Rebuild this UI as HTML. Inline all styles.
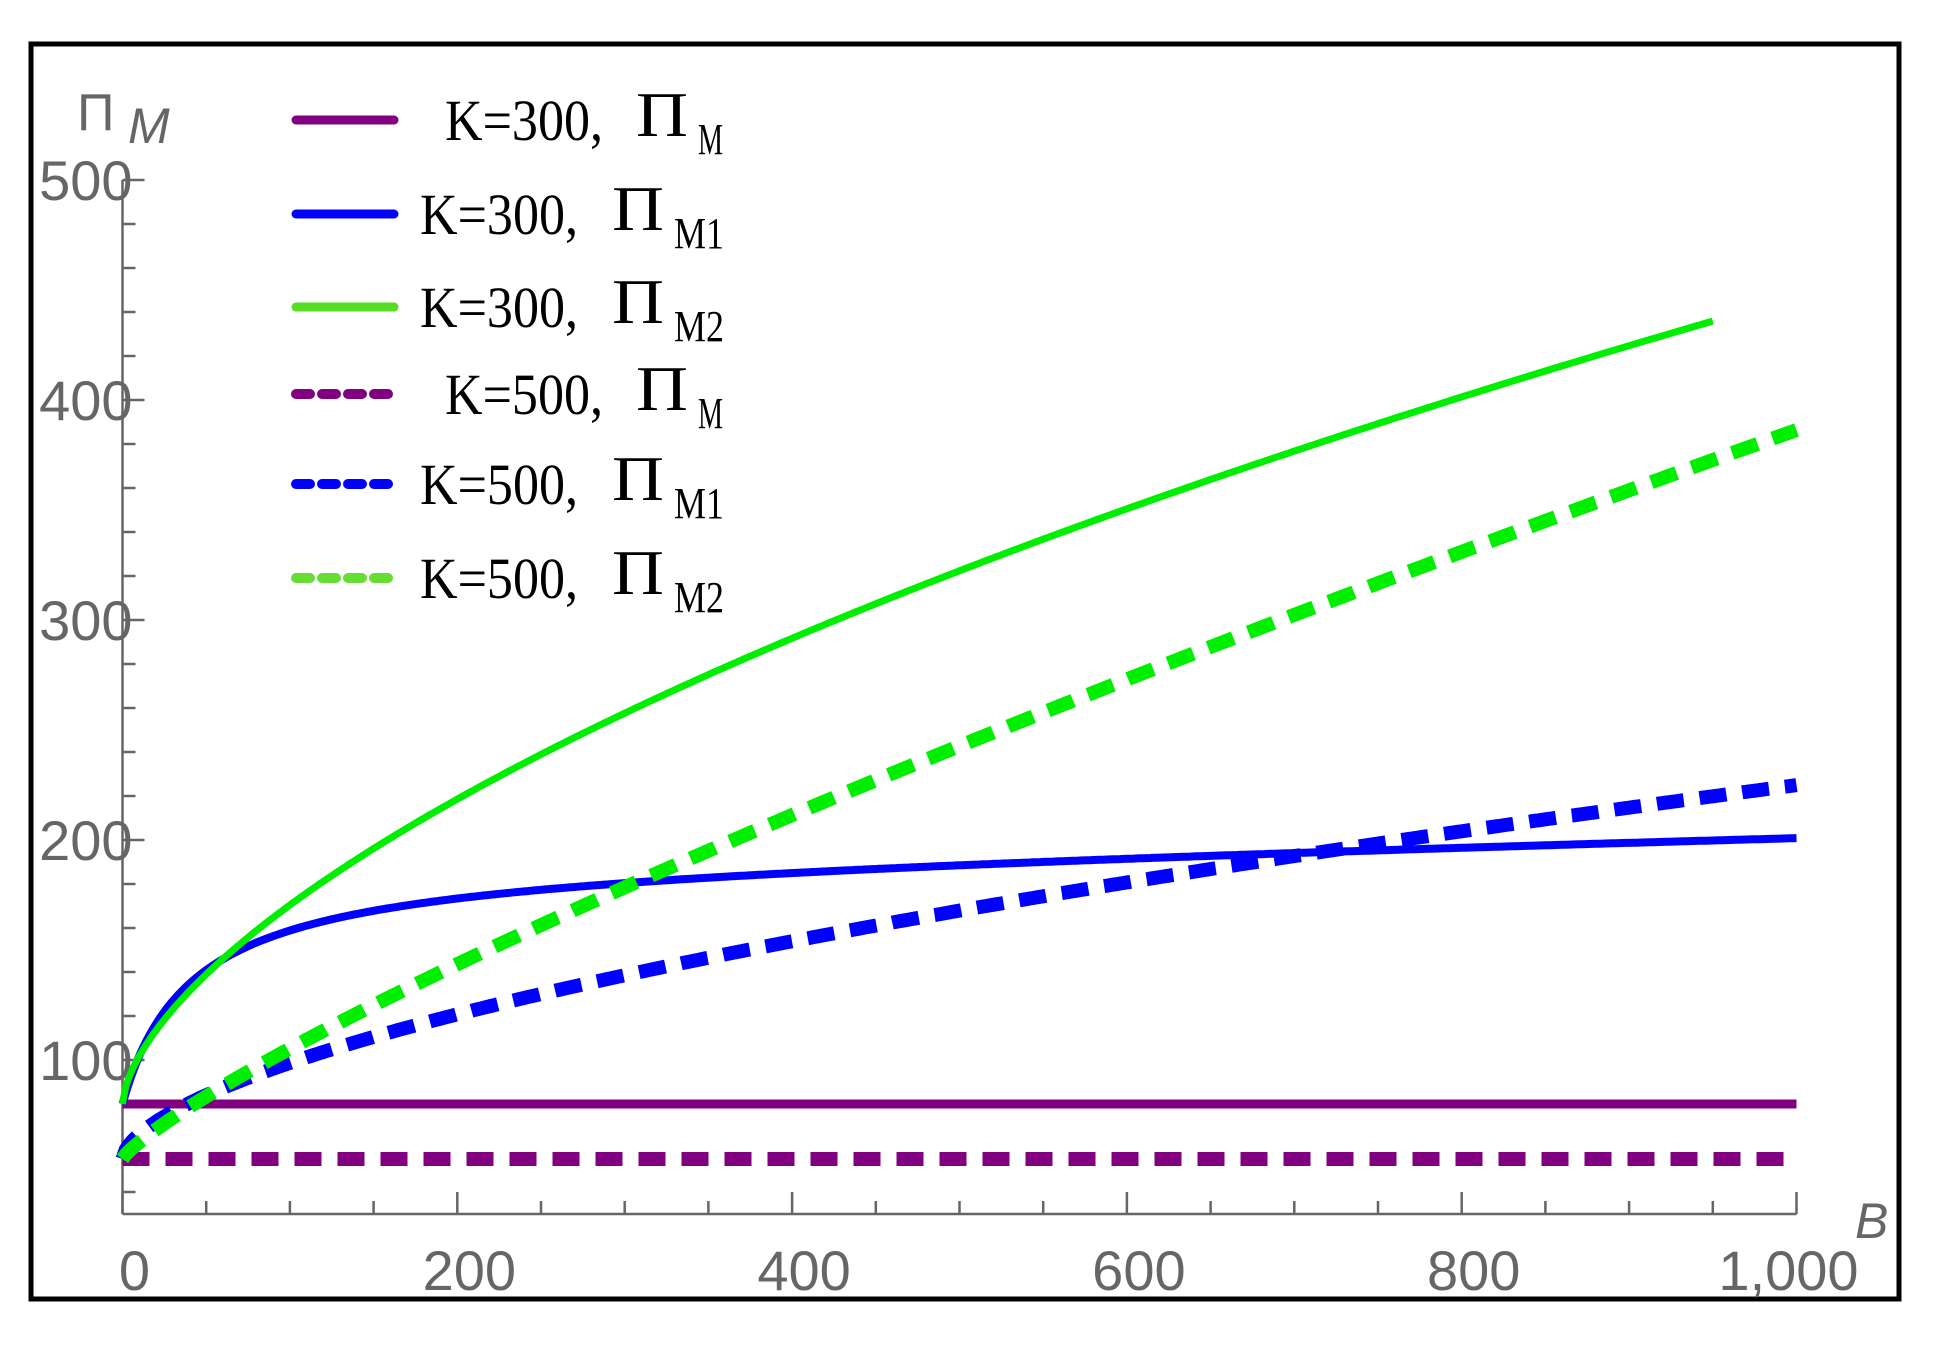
<!DOCTYPE html>
<html><head><meta charset="utf-8"><style>
html,body{margin:0;padding:0;background:#fff;}
svg{display:block;}
</style></head><body>
<svg id="s" width="1938" height="1347" viewBox="0 0 1938 1347" xmlns="http://www.w3.org/2000/svg">
<rect x="0" y="0" width="1938" height="1347" fill="#fff"/>
<rect x="31" y="44" width="1868" height="1255" fill="none" stroke="#000" stroke-width="5"/>
<g id="axes" stroke="#666" stroke-width="2.5" fill="none"></g>
<g id="lbl" font-family="Liberation Sans, sans-serif" font-size="56" fill="#666"></g>
<g id="curves" fill="none"></g>
<g id="legend"></g>
<text x="77" y="130" font-family="Liberation Sans, sans-serif" font-size="52" fill="#666">Π</text>
<text x="128" y="143" font-family="Liberation Sans, sans-serif" font-size="50" font-style="italic" fill="#666">M</text>
<text x="1855" y="1238" font-family="Liberation Sans, sans-serif" font-size="50" font-style="italic" fill="#666">B</text>
</svg>
<script>
var NS="http://www.w3.org/2000/svg";
function X(b){return 122.5+b*1.674;}
function Y(v){return 1060-(v-100)*2.2;}
function el(p,t,a,txt){var e=document.createElementNS(NS,t);for(var k in a)e.setAttribute(k,a[k]);if(txt!=null)e.textContent=txt;document.getElementById(p).appendChild(e);return e;}
el("axes","line",{x1:X(0),y1:Y(30),x2:X(1000),y2:Y(30)});
el("axes","line",{x1:X(0),y1:Y(30),x2:X(0),y2:Y(500)});
for(var b=0;b<=1000;b+=50){var maj=(b%200==0);el("axes","line",{x1:X(b),y1:Y(30),x2:X(b),y2:Y(30)-(maj?22:13)});}
for(var v=40;v<=500;v+=20){var maj=(v%100==0);el("axes","line",{x1:X(0),y1:Y(v),x2:X(0)+(maj?22:13),y2:Y(v)});}
for(var v=100;v<=500;v+=100){el("lbl","text",{x:X(0)+10,y:Y(v)+20,"text-anchor":"end"},String(v));}
var xl={0:"0",200:"200",400:"400",600:"600",800:"800",1000:"1,000"};
for(var k in xl){el("lbl","text",{x:X(+k)+(k==1000?-8:12),y:1290,"text-anchor":"middle"},xl[k]);}
function path(f,b0,b1){var d="";for(var b=b0;b<=b1;b+=2){d+=(b==b0?"M":"L")+X(b).toFixed(1)+","+Y(f(b)).toFixed(1);}return d;}
var P="#800080",Bl="#0000ff",G="#00ee00";
function draw(d,c,w,ds){var a={d:d,stroke:c,"stroke-width":w,"stroke-linejoin":"round"};if(ds){a["stroke-dasharray"]="27 16";a["stroke-width"]=14;}el("curves","path",a);}
draw(path(function(b){return 80;},0,1000),P,9);
draw(path(function(b){return 80+108*b/(b+40)+0.017*b;},0,1000),Bl,8);
draw(path(function(b){return 80+5.22*Math.pow(b,0.62)*(1-0.00003*b);},0,950),G,7);
draw(path(function(b){return 55;},0,1000),P,0,true);
draw(path(function(b){return 55+2.886*Math.pow(b,0.59);},0,1000),Bl,0,true);
draw(path(function(b){return 55+1.149*Math.pow(b,0.82);},0,1000),G,0,true);
var rows=[[120,P,false,"K=300,","M",445],[214,Bl,false,"K=300,","M1",420],[307,"#55dd22",false,"K=300,","M2",420],
[394,P,true,"K=500,","M",445],[484,Bl,true,"K=500,","M1",420],[578,"#66dd33",true,"K=500,","M2",420]];
rows.forEach(function(r){
 var y=r[0];
 var a={x1:296,y1:y,x2:394,y2:y,stroke:r[1],"stroke-width":r[2]?10:9,"stroke-linecap":"round"};
 if(r[2]){a["stroke-dasharray"]="14 12";}
 el("legend","line",a);
 el("legend","text",{x:r[5],y:y+20,"font-family":"Liberation Serif, serif","font-size":58,fill:"#000",textLength:158,lengthAdjust:"spacingAndGlyphs"},r[3]);
 var px=r[5]==445?636:612;
 el("legend","text",{x:px,y:y+16,"font-family":"Liberation Serif, serif","font-size":64,fill:"#000",textLength:52,lengthAdjust:"spacingAndGlyphs"},"Π");
 el("legend","text",{x:px+62,y:y+34,"font-family":"Liberation Serif, serif","font-size":44,fill:"#000",textLength:r[4].length*25,lengthAdjust:"spacingAndGlyphs"},r[4]);
});
</script>
</body></html>
